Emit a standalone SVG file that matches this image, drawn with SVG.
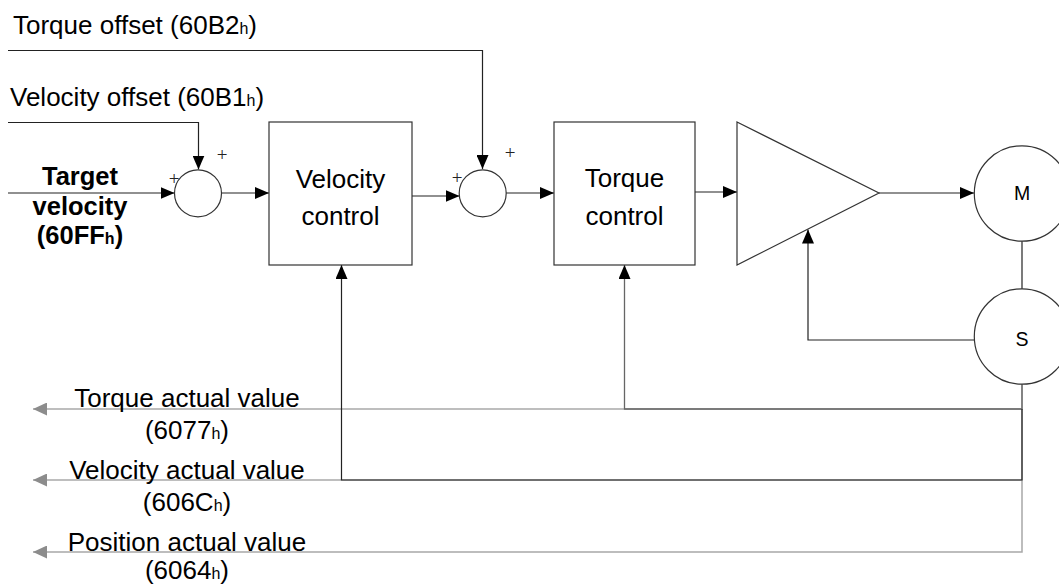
<svg xmlns="http://www.w3.org/2000/svg" width="1059" height="586" viewBox="0 0 1059 586">
<defs>
<marker id="ah" markerWidth="14" markerHeight="12" refX="14" refY="6" orient="auto" markerUnits="userSpaceOnUse"><path d="M0,0 L14,6 L0,12 Z" fill="#000"/></marker>
<marker id="ahg" markerWidth="14" markerHeight="13" refX="14" refY="6.5" orient="auto" markerUnits="userSpaceOnUse"><path d="M0,0 L14,6.5 L0,13 Z" fill="#8c8c8c"/></marker>
</defs>
<style>
text{font-family:"Liberation Sans",Arial,sans-serif;fill:#000}
.lbl{font-size:26px}
.bold{font-size:25.5px;font-weight:bold}
.sub{font-size:16px}
.pl{font-family:"Liberation Serif","Times New Roman",serif;font-size:19px;fill:#222;text-anchor:middle}
.blk{fill:#fff;stroke:#333;stroke-width:1.2}
.ln{fill:none;stroke:#222;stroke-width:1.2}
.gr{fill:none;stroke:#a8a8a8;stroke-width:1.5}
.mid{fill:none;stroke:#666;stroke-width:1.3}
.c{text-anchor:middle}
</style>
<rect width="1059" height="586" fill="#fff"/>
<g id="connectors">
<path class="ln" d="M8,50.5 H482.5 V169" marker-end="url(#ah)"/>
<path class="ln" d="M8,122.5 H198.5 V169.5" marker-end="url(#ah)"/>
<path class="ln" d="M8,193 H174.5" marker-end="url(#ah)"/>
<path class="ln" d="M221.5,193 H269" marker-end="url(#ah)"/>
<path class="ln" d="M412,196 H459.5" marker-end="url(#ah)"/>
<path class="ln" d="M506,193 H554" marker-end="url(#ah)"/>
<path class="ln" d="M695,192 H737" marker-end="url(#ah)"/>
<path class="ln" d="M879,193 H974" marker-end="url(#ah)"/>
<path class="ln" d="M1022,241 V289"/>
<path class="ln" d="M974,340 H808 V229.5" marker-end="url(#ah)"/>
<path class="gr" d="M1022,384 V552 H33" marker-end="url(#ahg)"/>
<path class="gr" d="M1022,409 H33" marker-end="url(#ahg)"/>
<path class="gr" d="M1022,480 H33" marker-end="url(#ahg)"/>
<path class="mid" d="M1022,384 V409 H624.5 V265" marker-end="url(#ah)"/>
<path class="ln" d="M1022,409 V480 H341.5 V265" marker-end="url(#ah)"/>
</g>
<g id="label-torque-offset"><text class="lbl" x="13" y="34">Torque offset (60B2<tspan class="sub">h</tspan>)</text></g>
<g id="label-velocity-offset"><text class="lbl" x="10" y="106">Velocity offset (60B1<tspan class="sub">h</tspan>)</text></g>
<g id="label-target-velocity">
<text class="bold c" x="80" y="185">Target</text>
<text class="bold c" x="80" y="215">velocity</text>
<text class="bold c" x="80" y="244">(60FF<tspan class="sub">h</tspan>)</text>
</g>
<g id="sum1">
<circle class="blk" cx="198" cy="193.3" r="23.5"/>
<text class="pl" x="222" y="161">+</text>
<text class="pl" x="174" y="185">+</text>
</g>
<g id="velocity-control">
<rect class="blk" x="269" y="122" width="143" height="143"/>
<text class="lbl c" x="340.5" y="187.5">Velocity</text>
<text class="lbl c" x="340.5" y="224.5">control</text>
</g>
<g id="sum2">
<circle class="blk" cx="482.7" cy="193.3" r="23.5"/>
<text class="pl" x="510" y="159">+</text>
<text class="pl" x="457" y="184">+</text>
</g>
<g id="torque-control">
<rect class="blk" x="554" y="122" width="141" height="143"/>
<text class="lbl c" x="624.5" y="187">Torque</text>
<text class="lbl c" x="624.5" y="224.5">control</text>
</g>
<g id="amplifier"><path class="blk" d="M737,122 L879,193 L737,265 Z"/></g>
<g id="motor">
<circle class="blk" cx="1022" cy="193.5" r="47.7"/>
<text class="c" x="1022" y="200" font-size="19.5">M</text>
</g>
<g id="sensor">
<circle class="blk" cx="1022" cy="336.5" r="47.7"/>
<text class="c" x="1022" y="345.5" font-size="19.5">S</text>
</g>
<g id="label-torque-actual">
<text class="lbl c" x="187" y="406.5">Torque actual value</text>
<text class="lbl c" x="187" y="438.5">(6077<tspan class="sub">h</tspan>)</text>
</g>
<g id="label-velocity-actual">
<text class="lbl c" x="187" y="478.5">Velocity actual value</text>
<text class="lbl c" x="187" y="511">(606C<tspan class="sub">h</tspan>)</text>
</g>
<g id="label-position-actual">
<text class="lbl c" x="187" y="550.5">Position actual value</text>
<text class="lbl c" x="187" y="579">(6064<tspan class="sub">h</tspan>)</text>
</g>
</svg>
